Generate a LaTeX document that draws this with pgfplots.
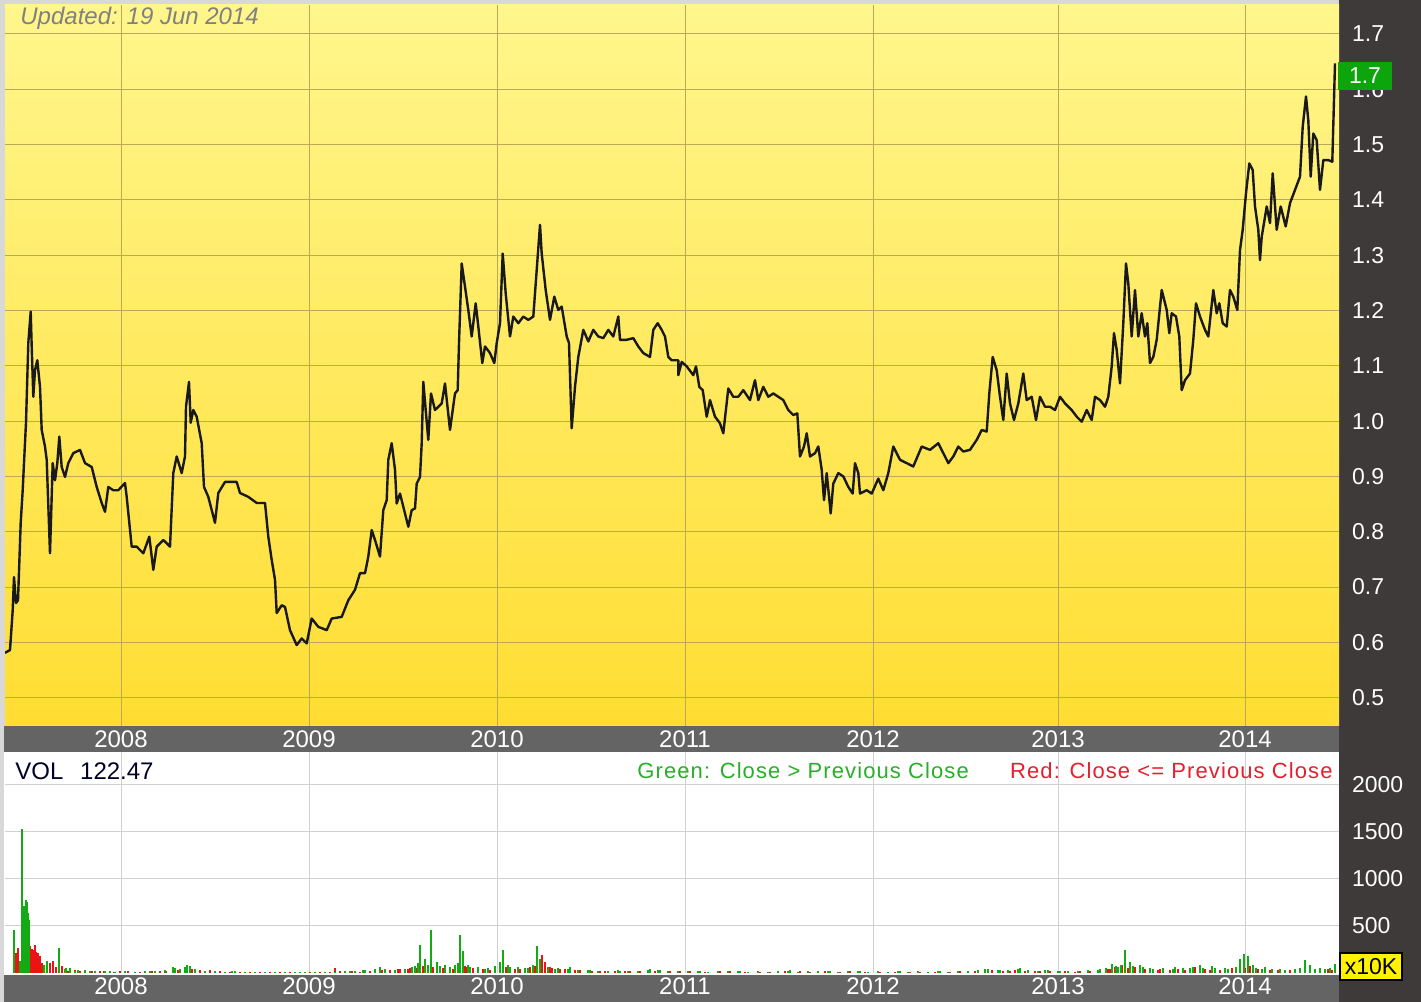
\documentclass[border=0pt]{standalone}
\usepackage{fontspec}
\setmainfont{Liberation Sans}
\newfontfamily\legfont[LetterSpace=5]{Liberation Sans}
\usepackage{pgfplots}
\pgfplotsset{compat=1.18}
\usepackage{pgfplotstable}
\definecolor{bgtop}{RGB}{255,246,140}
\definecolor{bgbot}{RGB}{255,221,50}
\definecolor{gridol}{RGB}{184,170,88}
\definecolor{volgrid}{RGB}{208,208,208}
\definecolor{band}{RGB}{100,100,100}
\definecolor{panel}{RGB}{62,58,57}
\definecolor{frame}{RGB}{216,216,216}
\definecolor{volgreen}{RGB}{20,170,20}
\definecolor{volred}{RGB}{235,20,20}
\definecolor{boxgreen}{RGB}{12,165,12}
\definecolor{leggreen}{RGB}{40,175,40}
\definecolor{legred}{RGB}{232,30,45}

\pgfplotstableread{
x y
5 0.581
10 0.586
12.7 0.658
14 0.718
16 0.671
18 0.676
20.7 0.816
22.7 0.875
24 0.924
26 0.997
28.3 1.141
30.7 1.198
31.7 1.135
33.3 1.044
35 1.092
37.3 1.110
40 1.062
41.7 0.984
45 0.954
46.7 0.930
50 0.761
52.7 0.924
55 0.893
57.3 0.924
59.3 0.972
61.7 0.917
65 0.899
68.3 0.924
73.3 0.942
80 0.948
85 0.924
91.7 0.917
96.7 0.881
101.7 0.852
105 0.836
108.3 0.881
113.3 0.875
118.3 0.875
125 0.888
126.7 0.863
131.7 0.773
136.7 0.773
143.3 0.761
149.3 0.791
153.3 0.731
156.7 0.773
163.3 0.785
170 0.773
173.3 0.906
176.7 0.936
181.7 0.906
185 0.936
186 1.026
189 1.071
190.7 0.997
193.3 1.020
196.7 1.008
201.7 0.960
204 0.881
208.3 0.863
215 0.816
218.3 0.870
225 0.890
236.7 0.890
240 0.870
248.3 0.863
256.7 0.852
265 0.852
268.3 0.791
271.7 0.749
275 0.713
276.7 0.653
281.7 0.667
285 0.664
290 0.622
296.7 0.595
301.7 0.607
306.7 0.598
311.7 0.643
318.3 0.628
326.7 0.622
331.7 0.643
341.7 0.646
348.3 0.676
355 0.695
360 0.725
365 0.725
368.3 0.755
371.7 0.803
375 0.785
380 0.755
383.3 0.839
386.7 0.857
388.3 0.930
391.7 0.960
395 0.912
396.7 0.851
400 0.869
405 0.833
408.3 0.809
411.7 0.839
415 0.842
416.7 0.887
420 0.899
421.7 0.960
423.3 1.071
425.7 1.020
428.3 0.966
431 1.050
435 1.020
441.7 1.032
445 1.068
450 0.984
455 1.050
457.7 1.056
459 1.141
461.7 1.285
465 1.243
468.3 1.201
471.7 1.153
475.7 1.213
478.3 1.171
482.3 1.105
485 1.135
490 1.123
494.3 1.105
496.7 1.141
500 1.177
502.7 1.303
505.7 1.231
510 1.153
513.3 1.189
518.3 1.177
523.3 1.189
528.3 1.183
533.3 1.189
536.7 1.273
540 1.355
541.7 1.303
545.7 1.237
550 1.183
554.3 1.225
558.3 1.201
561.7 1.207
566.7 1.153
569 1.141
571.7 0.987
575 1.062
578.3 1.116
583.3 1.165
588.3 1.144
593.3 1.165
598.3 1.153
603.3 1.150
608.3 1.165
613.3 1.153
618.3 1.189
620 1.147
626.7 1.147
633.3 1.150
638.3 1.135
643.3 1.123
650 1.116
653.3 1.165
657.7 1.177
661.7 1.165
665 1.153
668.3 1.116
671.7 1.110
678.3 1.110
678.3 1.083
681.7 1.107
686.7 1.099
693.3 1.083
696 1.099
699.3 1.062
702.7 1.056
706.7 1.008
710 1.038
715 1.008
720 0.996
723.3 0.978
728.3 1.059
733.3 1.044
738.3 1.044
743.3 1.056
750 1.038
755 1.074
758.3 1.038
763.3 1.062
768.3 1.044
773.3 1.050
778.3 1.044
783.3 1.038
788.3 1.020
793.3 1.011
797.3 1.014
800 0.936
804 0.954
806.7 0.978
810 0.936
815 0.942
818.3 0.954
821.7 0.912
824 0.857
826.7 0.906
830.7 0.833
833.3 0.887
838.3 0.906
843.3 0.900
848.3 0.881
852.7 0.869
855 0.924
858.3 0.906
860 0.869
866.7 0.875
871.7 0.869
878.3 0.896
883.3 0.875
888.3 0.906
893.3 0.954
900 0.930
906.7 0.924
913.3 0.918
921.7 0.954
930 0.948
938.3 0.960
943.3 0.942
948.3 0.924
953.3 0.936
958.3 0.954
963.3 0.945
970 0.948
976.7 0.966
981.7 0.984
986.7 0.981
989.3 1.050
992.7 1.116
996.7 1.092
1000 1.044
1003.3 1.002
1006.7 1.086
1010 1.032
1014 1.002
1018.3 1.032
1023.3 1.086
1026.7 1.038
1031.7 1.044
1036 1.002
1040 1.044
1045 1.026
1050 1.026
1055 1.020
1060 1.044
1065 1.032
1071.7 1.020
1076.7 1.008
1081.7 0.999
1086.7 1.020
1091.7 1.002
1095 1.044
1100 1.038
1105 1.026
1108.3 1.044
1111.7 1.099
1114 1.159
1116.7 1.129
1120 1.068
1123.3 1.177
1126 1.285
1128.3 1.249
1131.7 1.153
1135 1.237
1138.3 1.153
1141.7 1.195
1145 1.153
1147.3 1.177
1150 1.105
1153.3 1.116
1156.7 1.147
1161.7 1.237
1166.7 1.201
1169.3 1.159
1171.7 1.195
1176 1.189
1179.3 1.153
1181.7 1.056
1185 1.074
1190 1.086
1193.3 1.147
1196 1.213
1200 1.189
1205 1.165
1208.3 1.153
1213.3 1.237
1216.7 1.195
1219.3 1.213
1222.7 1.177
1226.7 1.171
1230 1.237
1233.3 1.225
1237.3 1.201
1240 1.309
1242.7 1.346
1246 1.412
1249.3 1.466
1252.7 1.454
1255 1.388
1258.3 1.346
1260 1.291
1261.7 1.333
1266.7 1.388
1270 1.358
1272.7 1.448
1276.7 1.346
1280.7 1.388
1285.7 1.352
1290 1.394
1295 1.418
1300 1.442
1302.7 1.532
1306 1.587
1308.3 1.544
1310.7 1.442
1313.3 1.520
1316.7 1.508
1320 1.418
1323.3 1.472
1328.3 1.472
1332.3 1.469
1335 1.647
}\pricedata

\pgfplotstableread{
x v
14 460
20 130
22 1527
23 700
24 708
26 780
27 760
28 640
29 560
44 80
47 124
59 270
65 40
66 50
70 55
75 25
78 30
85 30
90 25
95 20
105 25
110 20
115 15
125 20
135 15
145 25
150 25
155 20
165 30
173 60
175 55
180 40
185 60
187 85
190 70
195 40
205 25
215 20
225 15
232 20
235 20
245 15
255 10
265 15
275 10
285 10
295 15
300 15
305 10
315 15
325 10
335 15
345 20
350 25
355 25
363 30
365 30
375 40
380 60
385 45
395 35
405 40
412 60
415 70
418 110
420 300
425 150
428 90
431 460
437 120
440 70
445 80
450 60
455 90
458 110
460 400
463 230
468 80
470 60
478 60
485 40
488 50
495 70
500 120
503 245
508 80
510 60
518 60
525 50
528 50
533 90
537 290
540 150
548 60
555 40
558 50
568 40
570 60
578 35
588 30
590 30
598 25
608 20
618 30
620 25
628 25
638 20
648 30
650 40
658 35
660 30
668 25
678 20
688 25
698 20
700 25
708 15
718 20
728 25
738 20
740 20
748 15
758 20
768 15
778 20
788 25
790 30
798 15
808 20
818 25
828 20
830 20
838 15
848 20
858 25
860 25
868 15
878 20
888 15
898 20
900 20
908 15
918 20
928 15
938 20
940 25
948 15
958 20
968 25
978 30
985 40
988 45
998 35
1000 30
1008 30
1018 40
1020 50
1028 30
1038 25
1045 30
1048 30
1058 25
1060 25
1068 20
1078 25
1088 30
1098 35
1100 40
1106 50
1112 100
1116 70
1118 60
1121 90
1125 245
1130 120
1133 70
1140 80
1143 60
1150 50
1153 45
1163 50
1173 40
1175 60
1183 50
1190 50
1193 60
1200 90
1203 55
1212 70
1215 50
1225 50
1228 45
1236 60
1240 150
1244 200
1248 180
1253 80
1256 55
1262 40
1265 60
1272 45
1280 40
1285 35
1295 40
1300 50
1305 140
1310 80
1315 45
1320 50
1325 40
1330 50
1335 100
}\volgreen

\pgfplotstableread{
x v
16 215
18 270
25 283
30 283
31 260
32 250
33 240
35 300
36 220
38 215
40 177
42 110
50 110
53 124
56 60
62 70
68 25
75 30
80 20
85 25
92 25
100 20
104 20
114 15
120 20
128 20
135 15
140 15
152 20
160 25
166 25
178 30
192 40
200 35
205 20
210 30
220 20
230 15
240 15
250 15
260 15
270 15
280 10
290 10
310 10
320 10
330 15
335 50
340 20
352 20
360 15
370 25
382 30
390 30
398 40
400 40
408 45
410 50
416 50
423 70
433 60
440 60
443 50
450 40
453 45
465 70
467 60
473 50
478 50
483 45
490 30
495 40
506 60
515 40
520 45
530 60
535 70
542 195
545 120
550 60
552 50
560 40
565 40
575 35
580 30
592 25
600 25
605 25
615 20
625 20
630 20
640 20
655 25
670 20
680 25
690 20
705 15
720 20
730 20
745 15
760 15
770 15
785 20
800 20
810 15
825 20
840 15
850 20
865 15
880 15
895 15
910 15
920 15
935 15
950 15
960 20
975 20
992 30
1003 25
1010 20
1015 30
1025 25
1035 20
1040 25
1050 20
1065 20
1075 15
1080 20
1090 20
1100 25
1108 40
1110 45
1115 60
1122 80
1128 50
1135 60
1140 45
1145 40
1150 40
1158 35
1160 45
1170 30
1178 40
1185 35
1190 45
1195 60
1200 40
1205 40
1210 35
1220 30
1225 35
1232 50
1245 50
1250 70
1258 40
1265 40
1270 35
1278 30
1290 30
1300 30
1310 35
1315 35
1320 30
1328 40
1332 30
}\volred

\begin{document}
\begin{tikzpicture}
% backgrounds, in reference pixel units (y downward)
\begin{scope}[x=0.5pt,y=-0.5pt,shift={(0pt,501pt)}]
\path[use as bounding box] (0,0) rectangle (1421,1002);
\fill[frame] (0,0) rectangle (1421,1002);
\fill[panel] (1339,0) rectangle (1421,1002);
\fill[band] (4,726) rectangle (1339,752);
\fill[band] (4,975) rectangle (1339,1002);
\fill[white] (4,752) rectangle (1339,975);
\end{scope}

% price panel
\begin{axis}[
  at={(2.5pt,138pt)}, anchor=south west, scale only axis,
  width=667pt, height=360.5pt,
  xmin=5, xmax=1339, ymin=0.4487, ymax=1.7524,
  axis background/.style={top color=bgtop, bottom color=bgbot},
  axis line style={draw=none}, tick style={draw=none},
  xtick={121,309,497,685,873,1058,1245},
  xticklabels={2008,2009,2010,2011,2012,2013,2014},
  ytick={0.5,0.6,0.7,0.8,0.9,1.0,1.1,1.2,1.3,1.4,1.5,1.6,1.7},
  yticklabel pos=right,
  /pgf/number format/.cd, fixed, fixed zerofill, precision=1, assume math mode=true,
  /pgfplots/.cd,
  grid=major, major grid style={draw=gridol, line width=0.5pt},
  xticklabel style={text=white, font=\fontsize{12}{14}\selectfont, yshift=1pt},
  yticklabel style={text=white, font=\fontsize{11.5}{13}\selectfont, anchor=west, xshift=3pt},
]
\addplot[color=black!90, line width=1.2pt, line join=round] table[x=x,y=y] {\pricedata};
\end{axis}

% volume panel
\begin{axis}[
  at={(2.5pt,14.5pt)}, anchor=south west, scale only axis,
  width=667pt, height=110.5pt,
  xmin=5, xmax=1339, ymin=0, ymax=2351,
  axis line style={draw=none}, tick style={draw=none},
  xtick={121,309,497,685,873,1058,1245},
  xticklabels={2008,2009,2010,2011,2012,2013,2014},
  ytick={500,1000,1500,2000},
  yticklabel pos=right,
  /pgf/number format/.cd, fixed, set thousands separator={}, assume math mode=true,
  /pgfplots/.cd,
  grid=major, major grid style={draw=volgrid, line width=0.5pt},
  xticklabel style={text=white, font=\fontsize{12}{14}\selectfont, yshift=1pt},
  yticklabel style={text=white, font=\fontsize{11.5}{13}\selectfont, anchor=west, xshift=3pt},
]
\addplot[ycomb, color=volred, line width=1pt] table[x=x,y=v] {\volred};
\addplot[ycomb, color=volgreen, line width=1pt] table[x=x,y=v] {\volgreen};
\end{axis}

% texts and boxes, in reference pixel units
\begin{scope}[x=0.5pt,y=-0.5pt,shift={(0pt,501pt)}]
\node[anchor=west, text=black!50, font=\fontsize{12}{14}\selectfont\itshape, inner sep=0] at (20,18) {Updated: 19 Jun 2014};
\node[anchor=west, text=black!85!blue, font=\fontsize{12}{14}\selectfont, inner sep=0] at (15,771) {VOL\hspace{0.7em}122.47};
\node[anchor=west, text=leggreen, font=\legfont\fontsize{11}{13}\selectfont, inner sep=0] at (637,771) {Green: Close > Previous Close};
\node[anchor=east, text=legred, font=\legfont\fontsize{11}{13}\selectfont, inner sep=0] at (1333,771) {Red: Close <= Previous Close};
\node[fill=boxgreen, text=white, font=\fontsize{11.5}{13}\selectfont, minimum width=27pt, minimum height=14pt, inner sep=0] at (1365,76) {1.7};
\node[fill=yellow, draw=black, line width=1pt, text=black, font=\fontsize{11.5}{13}\selectfont, minimum width=31pt, minimum height=13.5pt, inner sep=0] at (1371,967) {x10K};
\end{scope}
\end{tikzpicture}
\end{document}
